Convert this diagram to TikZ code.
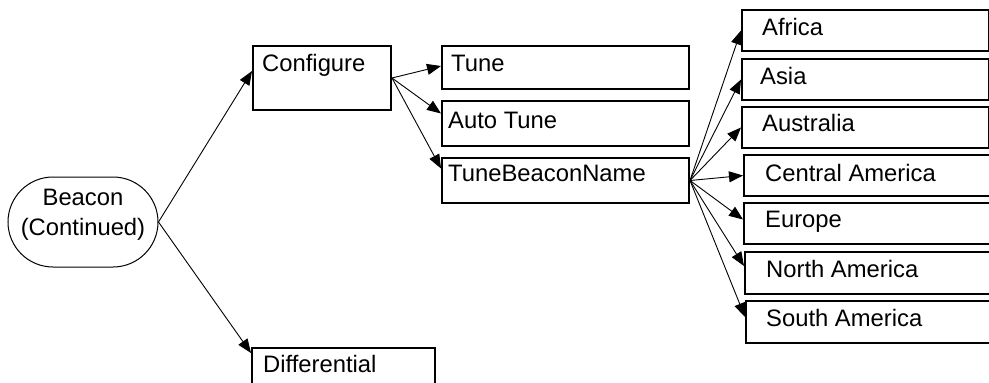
\documentclass[tikz,border=0pt]{standalone}
\usepackage{fontspec}
\setmainfont{Liberation Sans}
\usetikzlibrary{arrows.meta,shapes.misc}

\tikzset{
  box/.style={draw, line width=2pt, anchor=north west, inner sep=0pt},
  txt/.style={font=\fontsize{23.8}{30}\selectfont, inner sep=0pt, anchor=base west},
  conn/.style={-{Triangle[length=14pt,width=11pt]}, line width=0.9pt}
}

\begin{document}
\begin{tikzpicture}[x=1pt,y=-1pt]
            \useasboundingbox (0,0) rectangle (989,383);

            % start node
            \node[draw, rounded rectangle, line width=1pt, minimum width=150pt, minimum height=90pt, inner sep=0pt,
                label={[txt, anchor=north, align=center, yshift=-12pt]90:Beacon\\(Continued)}] (beacon) at (83,222) {};

            % second column
            \node[box, minimum width=138pt, minimum height=64pt,
                label={[txt, xshift=10pt, yshift=6.3pt]180:Configure}] (configure) at (252,45) {};
            \node[box, minimum width=183pt, minimum height=60pt,
                label={[txt, xshift=12pt, yshift=5.3pt]180:Differential}] (differential) at (251,347) {};

            % third column
            \node[box, minimum width=247pt, minimum height=43pt,
                label={[txt, xshift=10pt, yshift=-3.5pt]180:Tune}] (tune) at (441,45) {};
            \node[box, minimum width=247pt, minimum height=45pt,
                label={[txt, xshift=7pt, yshift=-4.8pt]180:Auto Tune}] (autotune) at (441,100) {};
            \node[box, minimum width=247pt, minimum height=45pt,
                label={[txt, xshift=7pt, yshift=-0.5pt]180:TuneBeaconName}] (beaconname) at (441,157) {};

            % regions
            \node[box, minimum width=247pt, minimum height=41pt,
                label={[txt, xshift=21pt, yshift=-4.8pt]180:Africa}] (africa) at (741,9) {};
            \node[box, minimum width=247pt, minimum height=41pt,
                label={[txt, xshift=19pt, yshift=-4.8pt]180:Asia}] (asia) at (741,58) {};
            \node[box, minimum width=247pt, minimum height=41pt,
                label={[txt, xshift=21pt, yshift=-3.5pt]180:Australia}] (australia) at (741,106) {};
            \node[box, minimum width=260pt, minimum height=41pt,
                label={[txt, xshift=22pt, yshift=-5.5pt]180:Central America}] (centralam) at (743,154) {};
            \node[box, minimum width=260pt, minimum height=41pt,
                label={[txt, xshift=22pt, yshift=-4.2pt]180:Europe}] (europe) at (743,202) {};
            \node[box, minimum width=260pt, minimum height=42pt,
                label={[txt, xshift=22pt, yshift=-4.7pt]180:North America}] (northam) at (744,251) {};
            \node[box, minimum width=260pt, minimum height=42pt,
                label={[txt, xshift=21pt, yshift=-4.5pt]180:South America}] (southam) at (745,300) {};

            % connectors
            \draw[conn] (beacon.east) -- ([yshift=7pt]configure.west);
            \draw[conn] (beacon.east) -- ([yshift=-6pt]differential.north west);

            \draw[conn] (configure.east) -- ([yshift=1.5pt]tune.west);
            \draw[conn] (configure.east) -- ([yshift=10pt]autotune.west);
            \draw[conn] (configure.east) -- ([yshift=12pt]beaconname.west);

            \foreach \reg in {africa,asia,australia,centralam}
                \draw[conn] (beaconname.east) -- (\reg.west);
            \draw[conn] (beaconname.east) -- ([yshift=4pt]europe.west);
            \draw[conn] (beaconname.east) -- ([yshift=7pt]northam.west);
            \draw[conn] (beaconname.east) -- ([yshift=5pt]southam.west);
\end{tikzpicture}
\end{document}
